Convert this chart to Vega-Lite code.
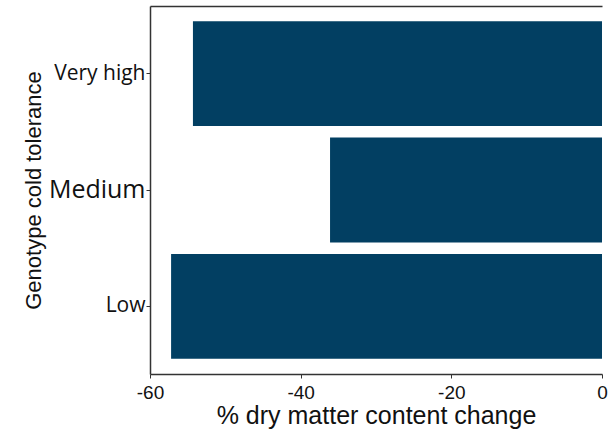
{
  "$schema": "https://vega.github.io/schema/vega-lite/v6.json",
  "autosize": "none",
  "width": 452,
  "height": 368,
  "padding": {"left": 150, "top": 6, "right": 6, "bottom": 59},
  "background": "white",
  "config": {"view": {"stroke": null}},
  "data": {"values": [
    {"tolerance": "Very high", "change": -54.3},
    {"tolerance": "Medium", "change": -36.1},
    {"tolerance": "Low", "change": -57.2}
  ]},
  "encoding": {
    "y": {
      "field": "tolerance", "type": "nominal",
      "sort": ["Very high", "Medium", "Low"],
      "scale": {"paddingInner": 0.1, "paddingOuter": 0.13},
      "axis": {
        "title": "Genotype cold tolerance",
        "titleFont": "Liberation Sans", "titleFontSize": 22, "titleFontWeight": "normal", "titleColor": "#111",
        "titlePadding": 3,
        "labelFont": "Open Sans",
        "labelFontSize": {"condition": {"test": "datum.value == 'Medium'", "value": 25}, "value": 21},
        "labelColor": "#111", "labelPadding": 1,
        "domainColor": "#333", "domainWidth": 1.5,
        "tickColor": "#333", "tickSize": 4
      }
    }
  },
  "layer": [
    {
      "mark": {"type": "bar", "color": "#023f62"},
      "encoding": {
        "x": {
          "field": "change", "type": "quantitative",
          "scale": {"domain": [-60, 0], "nice": false},
          "axis": {
            "title": "% dry matter content change",
            "values": [-60, -40, -20, 0],
            "labelExpr": "toString(datum.value)",
            "grid": false,
            "titleFont": "Liberation Sans", "titleFontSize": 25, "titleFontWeight": "normal", "titleColor": "#111",
            "titlePadding": 1,
            "labelFont": "Liberation Sans", "labelFontSize": 19, "labelColor": "#111", "labelPadding": 5,
            "labelFlush": false,
            "domainColor": "#333", "domainWidth": 1.5,
            "tickColor": "#333", "tickSize": 4
          }
        },
        "x2": {"datum": 0}
      }
    },
    {
      "mark": {"type": "bar", "opacity": 0},
      "encoding": {
        "x": {
          "field": "change", "type": "quantitative",
          "scale": {"domain": [-60, 0], "nice": false},
          "axis": {
            "orient": "top", "title": null, "labels": false, "ticks": false, "grid": false,
            "domainColor": "#333", "domainWidth": 1.5
          }
        },
        "x2": {"datum": 0}
      }
    }
  ],
  "resolve": {"axis": {"x": "independent"}}
}
